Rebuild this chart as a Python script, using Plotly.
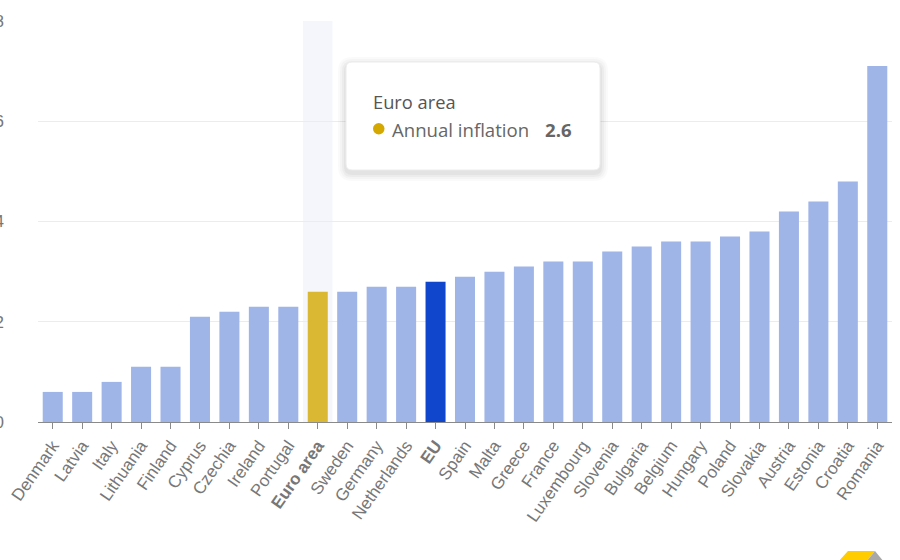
import plotly.graph_objects as go

countries = ["Denmark", "Latvia", "Italy", "Lithuania", "Finland", "Cyprus", "Czechia",
             "Ireland", "Portugal", "Euro area", "Sweden", "Germany", "Netherlands", "EU",
             "Spain", "Malta", "Greece", "France", "Luxembourg", "Slovenia", "Bulgaria",
             "Belgium", "Hungary", "Poland", "Slovakia", "Austria", "Estonia", "Croatia", "Romania"]
inflation = [0.6, 0.6, 0.8, 1.1, 1.1, 2.1, 2.2, 2.3, 2.3, 2.6, 2.6, 2.7, 2.7, 2.8,
             2.9, 3.0, 3.1, 3.2, 3.2, 3.4, 3.5, 3.6, 3.6, 3.7, 3.8, 4.2, 4.4, 4.8, 7.1]
y_ticks = [0, 2, 4, 6, 8]

BASE = "#9fb4e7"
EA = "#dbb833"
EU = "#0f46cb"
colors = [EA if c == "Euro area" else EU if c == "EU" else BASE for c in countries]
tick_text = [f"<b>{c}</b>" if c in ("Euro area", "EU") else c for c in countries]

hover_idx = countries.index("Euro area")

fig = go.Figure(go.Bar(
    x=list(range(len(countries))), y=inflation,
    marker=dict(color=colors, line=dict(width=0)),
    hoverinfo="skip",
))

W, H = 900, 560
L, R, T, B = 38, 8, 21, 138
pw, ph = W - L - R, H - T - B

def px(x):
    return (x - L) / pw

def py(y):
    return (H - B - y) / ph

shapes = [
    dict(type="rect", xref="x", yref="y", x0=hover_idx - 0.5, x1=hover_idx + 0.5,
         y0=0, y1=8, fillcolor="#f4f6fc", line=dict(width=0), layer="below"),
]

# tooltip box with soft shadow
bx0, bx1, by0, by1 = 346, 600, 62, 170
r = 6

def rounded(x0, y0, x1, y1, r):
    X = px
    Y = py
    return (f"M {X(x0 + r)} {Y(y0)} L {X(x1 - r)} {Y(y0)} Q {X(x1)} {Y(y0)} {X(x1)} {Y(y0 + r)} "
            f"L {X(x1)} {Y(y1 - r)} Q {X(x1)} {Y(y1)} {X(x1 - r)} {Y(y1)} "
            f"L {X(x0 + r)} {Y(y1)} Q {X(x0)} {Y(y1)} {X(x0)} {Y(y1 - r)} "
            f"L {X(x0)} {Y(y0 + r)} Q {X(x0)} {Y(y0)} {X(x0 + r)} {Y(y0)} Z")

for d, op in [(8, 0.02), (6, 0.025), (4, 0.03), (2, 0.035)]:
    shapes.append(dict(type="path", xref="paper", yref="paper",
                       path=rounded(bx0 - d, by0 - d + 3, bx1 + d, by1 + d + 3, r + d),
                       fillcolor=f"rgba(0,0,0,{op})", line=dict(width=0), layer="above"))

shapes.append(dict(type="path", xref="paper", yref="paper", path=rounded(bx0, by0, bx1, by1, r),
                   fillcolor="white", line=dict(color="#ececec", width=1), layer="above"))
# colour dot
shapes.append(dict(type="circle", xref="paper", yref="paper",
                   x0=px(373), x1=px(384.5), y0=py(134.5), y1=py(123),
                   fillcolor="#d4a800", line=dict(width=0), layer="above"))
# corner logo
shapes.append(dict(type="path", xref="paper", yref="paper",
                   path=f"M {px(838)} {py(562)} L {px(848)} {py(551)} L {px(875)} {py(551)} L {px(866)} {py(562)} Z",
                   fillcolor="#ffcc00", line=dict(width=0), layer="above"))
shapes.append(dict(type="path", xref="paper", yref="paper",
                   path=f"M {px(866)} {py(562)} L {px(875)} {py(551)} L {px(884)} {py(562)} Z",
                   fillcolor="#a8a8a8", line=dict(width=0), layer="above"))

tip_font = "Open Sans, Noto Sans, sans-serif"
annotations = [
    dict(xref="paper", yref="paper", x=px(371), y=py(102), xanchor="left", yanchor="middle",
         text="Euro area", showarrow=False, font=dict(family=tip_font, size=18.3, color="#555")),
    dict(xref="paper", yref="paper", x=px(390), y=py(129), xanchor="left", yanchor="middle",
         text="Annual inflation", showarrow=False, font=dict(family=tip_font, size=18.6, color="#666")),
    dict(xref="paper", yref="paper", x=px(543), y=py(129), xanchor="left", yanchor="middle",
         text=f"<b>{inflation[hover_idx]}</b>", showarrow=False,
         font=dict(family=tip_font, size=18.6, color="#666")),
]

fig.update_layout(
    width=W, height=H,
    margin=dict(l=L, r=R, t=T, b=B, autoexpand=False),
    paper_bgcolor="white", plot_bgcolor="white",
    bargap=0.32, showlegend=False,
    font=dict(family="Liberation Sans, Arial, sans-serif", color="#777"),
    shapes=shapes, annotations=annotations,
    xaxis=dict(
        tickmode="array", tickvals=list(range(len(countries))), ticktext=tick_text,
        tickangle=-55, tickfont=dict(size=17, color="#777"),
        range=[-0.5, len(countries) - 0.5],
        showgrid=False, zeroline=False,
        showline=True, linecolor="#8a8a8a", linewidth=1,
        ticks="outside", ticklen=6, tickcolor="#8a8a8a", tickson="boundaries",
        automargin=False,
    ),
    yaxis=dict(
        range=[0, 8], tickvals=y_ticks, tickfont=dict(size=17, color="#777"),
        showgrid=True, gridcolor="#e8ecf6", gridwidth=1, zeroline=False,
        showline=False, ticks="", ticklabelstandoff=33, automargin=False,
    ),
)

fig.write_html("out.html")
